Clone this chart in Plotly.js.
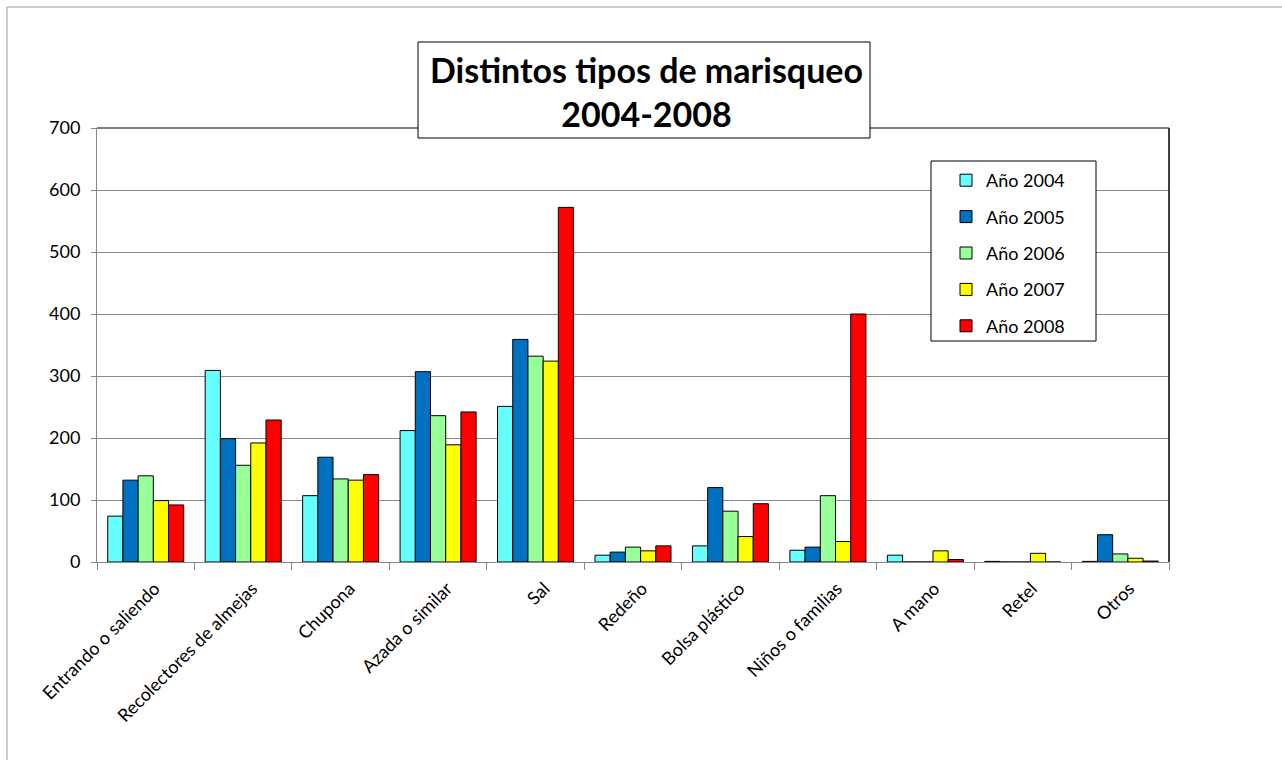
<!DOCTYPE html>
<html>
<head>
<meta charset="utf-8">
<script src="https://cdn.plot.ly/plotly-3.0.1.min.js"></script>
<style>html,body{margin:0;padding:0;background:#fff;}#chart{width:1282px;height:760px;}</style>
</head>
<body>
<div id="chart"></div>
<script>
const categories = ['Entrando o saliendo','Recolectores de almejas','Chupona','Azada o similar','Sal','Redeño','Bolsa plástico','Niños o familias','A mano','Retel','Otros'];
const seriesNames = ['Año 2004','Año 2005','Año 2006','Año 2007','Año 2008'];
const y2004 = [74, 309, 107, 212, 251, 11, 26, 19, 11, 1, 1];
const y2005 = [132, 199, 169, 307, 359, 16, 120, 24, 0, 0, 44];
const y2006 = [139, 156, 134, 236, 332, 24, 82, 107, 0, 0, 13];
const y2007 = [99, 192, 132, 189, 324, 18, 41, 33, 18, 14, 6];
const y2008 = [92, 229, 141, 242, 572, 26, 94, 400, 4, 0, 1.5];
const yTicks = [0, 100, 200, 300, 400, 500, 600, 700];
const titleText = 'Distintos tipos de marisqueo<br>2004-2008';

const seriesValues = [y2004, y2005, y2006, y2007, y2008];
const colors = ['#66FFFF', '#0070C0', '#99FF99', '#FFFF00', '#FF0000'];

const traces = seriesValues.map((vals, i) => ({
  type: 'bar',
  name: seriesNames[i],
  x: categories,
  y: vals,
  legendgroup: 'g' + i,
  marker: {color: colors[i], line: {color: '#000', width: 1}},
  hoverinfo: 'x+y+name'
}));

const font = 'Lato, "Open Sans", sans-serif';
const L = 97, T = 128, R = 1169, B = 562, W = 1282, H = 760;
const px = v => (v - L) / (R - L);
const py = v => (B - v) / (B - T);

const layout = {
  width: W, height: H,
  margin: {l: L, r: W - R, t: T, b: H - B, pad: 0},
  paper_bgcolor: '#fff', plot_bgcolor: '#fff',
  font: {family: font, color: '#000', size: 17},
  showlegend: true,
  barmode: 'group',
  bargap: 0.22,
  bargroupgap: 0,
  xaxis: {
    type: 'category',
    tickangle: -45,
    tickson: 'boundaries',
    ticks: 'outside', ticklen: 7, tickcolor: '#888', tickwidth: 1,
    showline: true, linecolor: '#888', linewidth: 1,
    showgrid: false,
    ticklabelstandoff: 8,
    ticklabelshift: 9,
    tickfont: {family: font, size: 18, color: '#000'}
  },
  yaxis: {
    range: [0, 700],
    tickvals: yTicks,
    ticks: 'outside', ticklen: 5, tickcolor: '#888', tickwidth: 1,
    showline: true, linecolor: '#888', linewidth: 1,
    showgrid: true, gridcolor: '#888', gridwidth: 1,
    zeroline: false,
    ticklabelstandoff: 7,
    tickfont: {family: font, size: 18, color: '#000'}
  },
  legend: {
    x: px(946), y: py(162), xanchor: 'left', yanchor: 'top',
    bgcolor: 'rgba(0,0,0,0)', borderwidth: 0,
    traceorder: 'grouped', tracegroupgap: 10,
    font: {family: font, size: 18, color: '#000'}
  },
  shapes: [
    {type: 'path', xref: 'paper', yref: 'paper', layer: 'above',
     path: `M ${px(7)} ${py(800)} L ${px(7)} ${py(7)} L ${px(1400)} ${py(7)}`,
     line: {color: '#999', width: 1}},
    {type: 'line', xref: 'paper', yref: 'paper', x0: 0, x1: 1, y0: 1, y1: 1, layer: 'above', line: {color: '#000', width: 1}},
    {type: 'line', xref: 'paper', yref: 'paper', x0: 1, x1: 1, y0: 0, y1: 1, layer: 'above', line: {color: '#000', width: 1.5}},
    {type: 'rect', xref: 'paper', yref: 'paper', layer: 'above',
     x0: px(418), x1: px(870), y0: py(138), y1: py(42),
     fillcolor: '#fff', line: {color: '#000', width: 1}},
    {type: 'rect', xref: 'paper', yref: 'paper', layer: 'above',
     x0: px(931), x1: px(1096), y0: py(341), y1: py(161),
     fillcolor: '#fff', line: {color: '#000', width: 1}}
  ],
  annotations: [
    {xref: 'paper', yref: 'paper', x: px(646), y: py(91), xanchor: 'center', yanchor: 'middle',
     text: '<b>' + titleText + '</b>', showarrow: false,
     font: {family: font, size: 34, color: '#000'}}
  ]
};

Plotly.newPlot('chart', traces, layout, {displayModeBar: false, staticPlot: true});
</script>
</body>
</html>
